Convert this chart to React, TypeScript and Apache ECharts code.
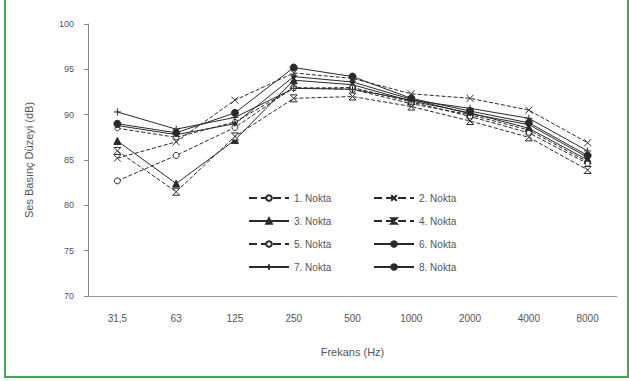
import React, { useEffect, useRef } from "react";
import * as echarts from "echarts";

// Frequency bands (Hz)
const frequencies = ["31,5", "63", "125", "250", "500", "1000", "2000", "4000", "8000"];

// Sound pressure levels (dB) per measuring point
const nokta1 = [82.7, 85.5, 88.6, 93.0, 92.8, 91.2, 90.0, 88.3, 84.8];
const nokta2 = [85.2, 87.0, 91.6, 94.6, 94.0, 92.3, 91.8, 90.5, 86.9];
const nokta3 = [87.1, 82.4, 87.2, 93.8, 93.3, 91.5, 90.2, 88.5, 85.0];
const nokta4 = [86.0, 81.5, 87.6, 91.8, 92.0, 90.9, 89.3, 87.5, 83.9];
const nokta5 = [88.5, 87.5, 89.2, 92.9, 93.0, 91.4, 89.8, 88.0, 84.6];
const nokta6 = [89.0, 88.0, 90.2, 95.2, 94.2, 91.8, 90.4, 89.1, 85.5];
const nokta7 = [90.3, 88.4, 89.7, 92.9, 92.8, 91.6, 90.7, 89.6, 86.0];
const nokta8 = [88.8, 87.8, 89.0, 94.2, 93.6, 91.7, 90.1, 88.9, 85.3];

const seriesNames = [
  "1. Nokta", "2. Nokta", "3. Nokta", "4. Nokta",
  "5. Nokta", "6. Nokta", "7. Nokta", "8. Nokta",
];

const INK = "#2a2a2a";
const TEXT = "#555";
const FONT = "Liberation Sans, Arial, sans-serif";

const crossSym = "path://M0,0L10,10M10,0L0,10";
const hourglassSym = "path://M0,0L10,0L0,10L10,10Z";
const plusSym = "path://M5,0L5,10M0,5L10,5";

function App() {
  const ref = useRef<HTMLDivElement>(null);

  useEffect(() => {
    if (!ref.current) return;
    const chart = echarts.init(ref.current, null, { renderer: "svg" });

    const mk = (
      name: string,
      data: number[],
      symbol: string,
      symbolSize: number,
      fill: string,
      lineType: "solid" | "dashed" | "dotted"
    ) => ({
      name,
      type: "line",
      data,
      symbol,
      symbolSize,
      showSymbol: true,
      showAllSymbol: true,
      color: INK,
      lineStyle: { color: INK, width: 1, type: lineType },
      itemStyle: { color: fill, borderColor: INK, borderWidth: 1 },
      emphasis: { disabled: true },
    });

    const legendBase = {
      orient: "vertical",
      top: 188,
      itemWidth: 40,
      itemHeight: 7,
      itemGap: 13,
      textStyle: { color: TEXT, fontSize: 10, fontFamily: FONT },
    };

    const option = {
      animation: false,
      backgroundColor: "#fff",
      textStyle: { fontFamily: FONT },
      grid: { left: 88, right: 12, top: 24, bottom: 85 },
      legend: [
        {
          ...legendBase,
          left: 243,
          data: [seriesNames[0], seriesNames[2], seriesNames[4], seriesNames[6]],
        },
        {
          ...legendBase,
          left: 368,
          data: [seriesNames[1], seriesNames[3], seriesNames[5], seriesNames[7]],
        },
      ],
      xAxis: {
        type: "category",
        data: frequencies,
        boundaryGap: true,
        name: "Frekans (Hz)",
        nameLocation: "middle",
        nameGap: 50,
        nameTextStyle: { color: TEXT, fontSize: 11, fontFamily: FONT },
        axisLine: { lineStyle: { color: "#999", width: 1 } },
        axisTick: { show: false },
        axisLabel: { color: TEXT, fontSize: 10, margin: 17, fontFamily: FONT },
        splitLine: { show: false },
      },
      yAxis: {
        type: "value",
        min: 70,
        max: 100,
        interval: 5,
        name: "Ses Basınç Düzeyi (dB)",
        nameLocation: "middle",
        nameGap: 54,
        nameTextStyle: { color: TEXT, fontSize: 11, fontFamily: FONT },
        axisLine: { show: true, lineStyle: { color: "#888", width: 1 } },
        axisTick: { show: true, length: 4, lineStyle: { color: "#888" } },
        axisLabel: { color: TEXT, fontSize: 9, margin: 14, fontFamily: FONT },
        splitLine: { show: false },
      },
      series: [
        mk(seriesNames[0], nokta1, "circle", 6, "#fff", "dashed"),
        mk(seriesNames[1], nokta2, crossSym, 7, "#fff", "dashed"),
        mk(seriesNames[2], nokta3, "triangle", 7, INK, "solid"),
        mk(seriesNames[3], nokta4, hourglassSym, 7, "#fff", "dashed"),
        mk(seriesNames[4], nokta5, "circle", 5, "#fff", "dashed"),
        mk(seriesNames[5], nokta6, "circle", 7, INK, "solid"),
        mk(seriesNames[6], nokta7, plusSym, 7, "#fff", "solid"),
        mk(seriesNames[7], nokta8, "circle", 4, INK, "solid"),
      ],
    };

    chart.setOption(option as any);
    return () => chart.dispose();
  }, []);

  return (
    <div
      style={{
        position: "fixed",
        left: 0,
        top: 0,
        width: 629,
        height: 381,
        background: "#fff",
      }}
    >
      <div ref={ref} style={{ position: "absolute", left: 0, top: 0, width: 629, height: 381 }} />
      <div
        style={{
          position: "absolute",
          left: 4,
          top: -2,
          width: 621,
          height: 378,
          borderLeft: "2px solid #35b04c",
          borderRight: "2px solid #35b04c",
          borderBottom: "2px solid #35b04c",
          pointerEvents: "none",
        }}
      />
    </div>
  );
}

export default App;
